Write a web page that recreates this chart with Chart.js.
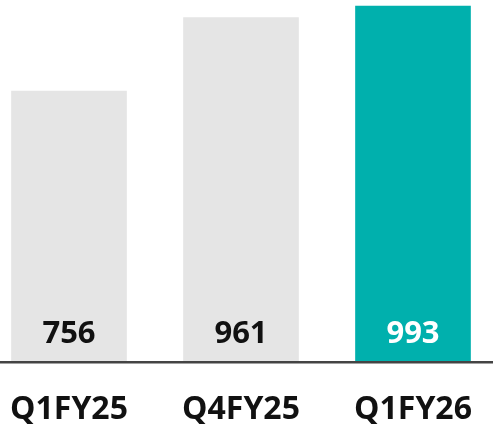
<!DOCTYPE html>
<html>
<head>
<meta charset="utf-8">
<script src="https://cdn.jsdelivr.net/npm/chart.js@4"></script>
<style>
  html, body { margin: 0; padding: 0; background: #fff; overflow: hidden; }
  #wrap { position: absolute; left: -17px; top: 0; width: 516px; height: 430px; }
</style>
</head>
<body>
<div id="wrap"><canvas id="barChart"></canvas></div>
<script>
// Dados do gráfico
const categories = ['Q1FY25', 'Q4FY25', 'Q1FY26'];
const values = [756, 961, 993];
const barColors = ['#e5e5e5', '#e5e5e5', '#00b0ad'];
const labelColors = ['#111111', '#111111', '#ffffff'];

// Plugin simples para escrever os valores dentro das barras
const valueLabels = {
    id: 'valueLabels',
    afterDatasetsDraw(chart) {
        const ctx = chart.ctx;
        const meta = chart.getDatasetMeta(0);
        const yScale = chart.scales.y;
        ctx.save();
        ctx.font = 'bold 31px "Open Sans"';
        ctx.textAlign = 'center';
        ctx.textBaseline = 'alphabetic';
        meta.data.forEach((bar, i) => {
            ctx.fillStyle = labelColors[i];
            ctx.fillText(values[i], bar.x, yScale.bottom - 19);
        });
        ctx.restore();
    }
};

const barChart = new Chart(document.getElementById('barChart').getContext('2d'), {
    type: 'bar',
    data: {
        labels: categories,
        datasets: [{
            data: values,
            backgroundColor: barColors,
            borderWidth: 0,
            barThickness: 115,
        }],
    },
    options: {
        responsive: true,
        maintainAspectRatio: false,
        animation: false,
        layout: { padding: 0 },
        plugins: { legend: { display: false }, tooltip: { enabled: false } },
        scales: {
            x: {
                grid: { display: false },
                border: { display: true, color: '#444444', width: 2.5, z: 1 },
                ticks: {
                    color: '#111111',
                    padding: 21,
                    font: { family: '"Open Sans"', size: 32, weight: 'bold' },
                },
                afterFit(scale) { scale.height = 68; },
            },
            y: {
                display: false,
                min: 0,
                max: 1010,
            },
        },
    },
    plugins: [valueLabels],
});
</script>
</body>
</html>
